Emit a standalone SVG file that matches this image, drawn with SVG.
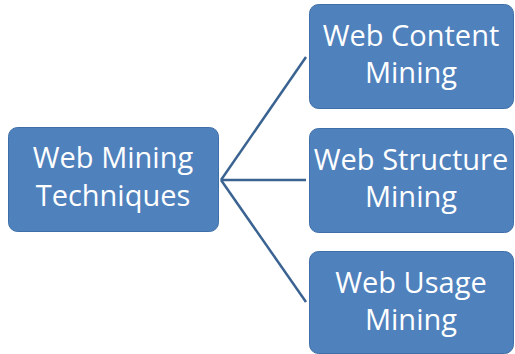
<svg xmlns="http://www.w3.org/2000/svg" width="515" height="354" viewBox="0 0 515 354">
<style>
.box{fill:#4F81BD;stroke:#3F6FA8;stroke-width:1}
.t{font-family:"Open Sans","Liberation Sans",sans-serif;font-size:29px;fill:#fff;text-anchor:middle}
.c{stroke:#3A6391;stroke-width:2.5;fill:none}
</style>
<rect width="515" height="354" fill="#fff"/>
<g id="connectors">
<line class="c" x1="221" y1="180" x2="306" y2="57"/>
<line class="c" x1="221" y1="180" x2="306" y2="180"/>
<line class="c" x1="221" y1="180" x2="306" y2="302"/>
</g>
<g id="root">
<rect class="box" x="8.5" y="127.5" width="210" height="104" rx="9"/>
<text class="t" x="113" y="168">Web Mining</text>
<text class="t" x="113" y="206">Techniques</text>
</g>
<g id="content">
<rect class="box" x="309.5" y="4.5" width="204" height="104" rx="9"/>
<text class="t" x="411" y="46">Web Content</text>
<text class="t" x="411" y="83">Mining</text>
</g>
<g id="structure">
<rect class="box" x="309.5" y="128.5" width="204" height="104" rx="9"/>
<text class="t" x="411" y="170">Web Structure</text>
<text class="t" x="411" y="207">Mining</text>
</g>
<g id="usage">
<rect class="box" x="309.5" y="251.5" width="204" height="102" rx="9"/>
<text class="t" x="411" y="293">Web Usage</text>
<text class="t" x="411" y="330">Mining</text>
</g>
</svg>
